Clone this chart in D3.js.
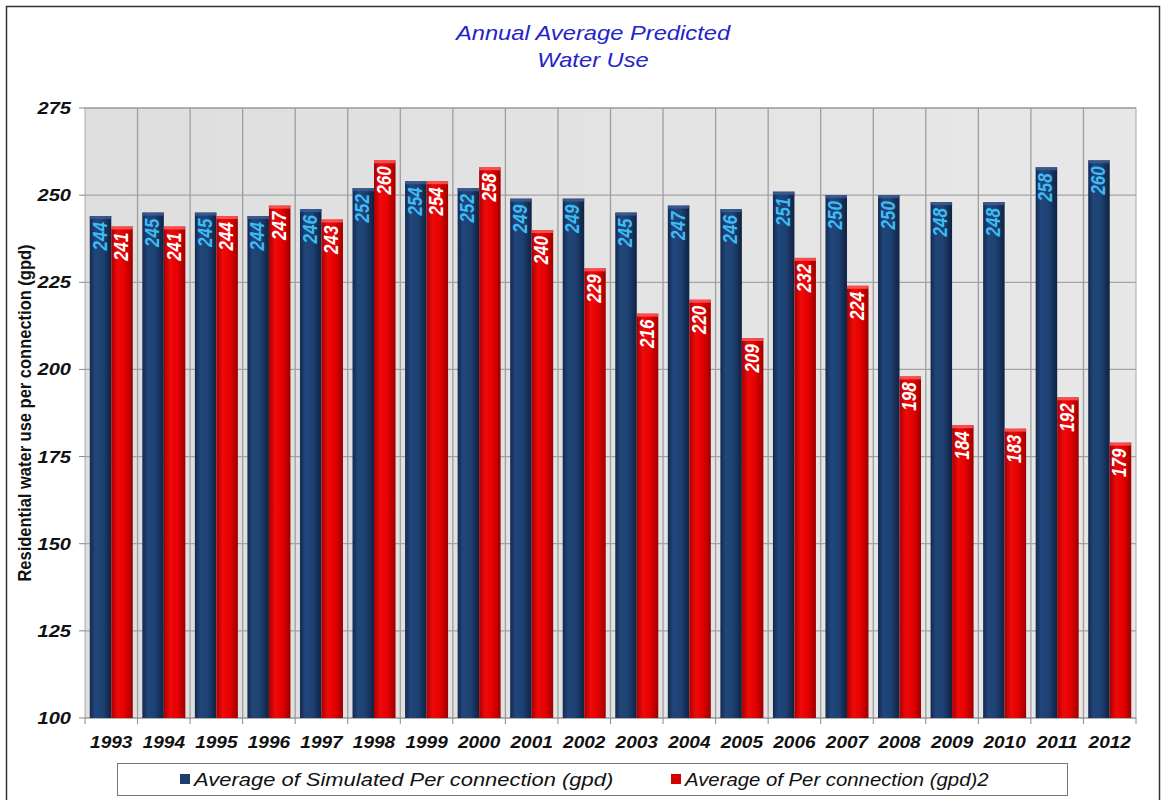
<!DOCTYPE html>
<html><head><meta charset="utf-8">
<script src="https://cdn.jsdelivr.net/npm/d3@7"></script>
<style>body{margin:0;background:#fff;}svg{display:block;font-family:Arial,"Liberation Sans",sans-serif;}</style>
</head><body><svg id="c" width="1166" height="800"></svg>
<script>
const years = ["1993","1994","1995","1996","1997","1998","1999","2000","2001","2002","2003","2004","2005","2006","2007","2008","2009","2010","2011","2012"];
const simulated = [244,245,245,244,246,252,254,252,249,249,245,247,246,251,250,250,248,248,258,260];
const actual = [241,241,244,247,243,260,254,258,240,229,216,220,209,232,224,198,184,183,192,179];
const yTicks = [100,125,150,175,200,225,250,275];
const seriesNames = ["Average of Simulated Per connection (gpd)","Average of Per connection (gpd)2"];
const titleLines = ["Annual Average Predicted","Water Use"];
const yTitle = "Residential water use per connection (gpd)";

const svg = d3.select("#c");
const defs = svg.append("defs");
function grad(id, stops){
  const g = defs.append("linearGradient").attr("id",id).attr("x1","0").attr("x2","1").attr("y1","0").attr("y2","0");
  stops.forEach(s=>g.append("stop").attr("offset",s[0]).attr("stop-color",s[1]));
}
grad("gBlue",[[0,"#14294d"],[0.25,"#21467b"],[0.6,"#1e4172"],[1,"#0f2142"]]);
grad("gRed",[[0,"#a80000"],[0.3,"#f00a0a"],[0.65,"#e20000"],[1,"#9a0000"]]);
grad("gBg",[[0,"#dedede"],[1,"#e8e8e8"]]);
const SX = 1.18;

svg.append("rect").attr("x",6.5).attr("y",6.5).attr("width",1153).attr("height",800).attr("fill","none").attr("stroke","#333").attr("stroke-width",1.5);

const L=85,R=1136,T=108,B=718;
const x = d3.scaleBand().domain(years).range([L,R]).paddingInner(0).paddingOuter(0);
const y = d3.scaleLinear().domain([100,275]).range([B,T]);
const barW = 21.5;

svg.append("rect").attr("x",L).attr("y",T).attr("width",R-L).attr("height",B-T).attr("fill","url(#gBg)").attr("stroke","#aaa");

svg.append("g").selectAll("line").data(yTicks).join("line")
  .attr("x1",L).attr("x2",R).attr("y1",d=>y(d)).attr("y2",d=>y(d)).attr("stroke","#a4a4a4").attr("stroke-width",1.3);
svg.append("g").selectAll("line").data(years.slice(1)).join("line")
  .attr("x1",d=>x(d)).attr("x2",d=>x(d)).attr("y1",T).attr("y2",B).attr("stroke","#9e9e9e").attr("stroke-width",1.3);

function drawBars(vals, fill, cap, cls){
  svg.append("g").selectAll("rect").data(years).join("rect")
    .attr("x",d=>x(d)+x.bandwidth()/2 + (cls==="b"?-barW:0))
    .attr("y",(d,i)=>y(vals[i]))
    .attr("width",barW)
    .attr("height",(d,i)=>B-y(vals[i]))
    .attr("fill",fill);
  svg.append("g").selectAll("rect").data(years).join("rect")
    .attr("x",d=>x(d)+x.bandwidth()/2 + (cls==="b"?-barW:0))
    .attr("y",(d,i)=>y(vals[i]))
    .attr("width",barW).attr("height",3)
    .attr("fill",cap).attr("opacity",0.8);
}
drawBars(simulated,"url(#gBlue)","#3d5f95","b");
drawBars(actual,"url(#gRed)","#ff6060","r");

function drawLabels(vals, color, cls){
  svg.append("g").selectAll("text").data(years).join("text")
    .attr("transform",(d,i)=>{
      const cx = x(d)+x.bandwidth()/2 + (cls==="b"?-barW/2:barW/2) + 6;
      return `translate(${cx},${y(vals[i])+6}) rotate(-90) scale(1,1.15)`;
    })
    .attr("text-anchor","end")
    .attr("font-size",17).attr("font-weight","bold").attr("font-style","italic")
    .attr("fill",color)
    .text((d,i)=>vals[i]);
}
drawLabels(simulated,"#3cbcf4","b");
drawLabels(actual,"#ffffff","r");

svg.append("g").selectAll("line").data(yTicks).join("line")
  .attr("x1",L-6).attr("x2",L).attr("y1",d=>y(d)).attr("y2",d=>y(d)).attr("stroke","#888");
svg.append("g").selectAll("text").data(yTicks).join("text")
  .attr("transform",d=>`translate(${L-14},${y(d)+6}) scale(${SX},1)`).attr("text-anchor","end")
  .attr("font-size",17).attr("font-weight","bold").attr("font-style","italic").attr("fill","#111")
  .text(d=>d);

svg.append("g").selectAll("line").data(d3.range(years.length+1)).join("line")
  .attr("x1",i=>L+i*x.bandwidth()).attr("x2",i=>L+i*x.bandwidth())
  .attr("y1",B).attr("y2",B+6).attr("stroke","#888");
svg.append("g").selectAll("text").data(years).join("text")
  .attr("transform",d=>`translate(${x(d)+x.bandwidth()/2},748) scale(1.12,1)`).attr("text-anchor","middle")
  .attr("font-size",17).attr("font-weight","bold").attr("font-style","italic").attr("fill","#111")
  .text(d=>d);

svg.append("text").attr("transform",`translate(31,${(T+B)/2}) rotate(-90) scale(1,1.15)`)
  .attr("text-anchor","middle").attr("font-size",16.5).attr("font-weight","bold").attr("fill","#111")
  .text(yTitle);

svg.append("g").selectAll("text").data(titleLines).join("text")
  .attr("transform",(d,i)=>`translate(593,${40+i*27}) scale(1.13,1)`).attr("text-anchor","middle")
  .attr("font-size",21).attr("font-style","italic").attr("fill","#2424c8")
  .text(d=>d);

svg.append("rect").attr("x",117.5).attr("y",763.5).attr("width",950).attr("height",32).attr("fill","#fff").attr("stroke","#777");
const legX = [180,671];
const legSX = [1.22,1.13];
const legCol = ["#1d3d6e","#d40000"];
seriesNames.forEach((n,i)=>{
  svg.append("rect").attr("x",legX[i]).attr("y",774).attr("width",10).attr("height",10).attr("fill",legCol[i]);
  svg.append("text").attr("transform",`translate(${legX[i]+14},786) scale(${legSX[i]},1)`).attr("font-size",18).attr("font-style","italic").attr("fill","#111")
    .text(n);
});
</script></body></html>
